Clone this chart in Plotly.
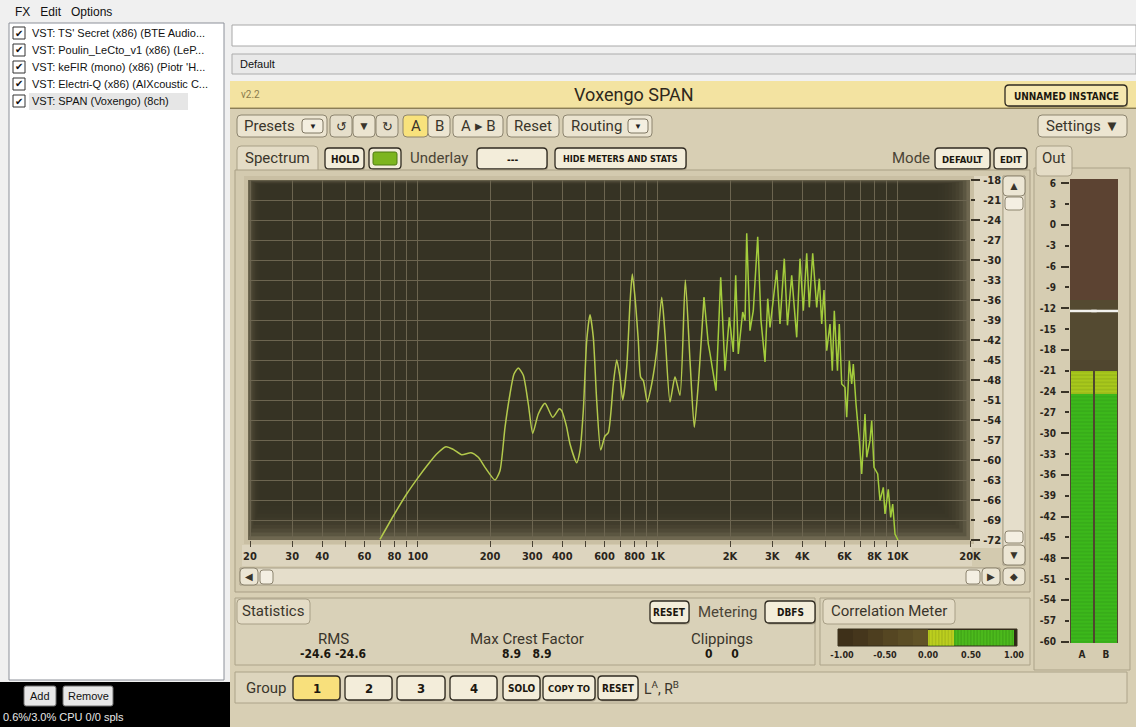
import math
import plotly.graph_objects as go

W, H = 1136, 727

# ---------------- data ----------------
freq_hz = [69.6, 79.1, 89.9, 100.5, 110.7, 119.9, 131.1, 140.6, 152.5, 166.7,
           178.8, 190.6, 209.8, 220.1, 231.0, 242.3, 251.8, 262.4, 275.3, 288.8,
           301.3, 317.9, 339.0, 365.0, 388.8, 397.9, 410.7, 417.5, 430.9, 459.5,
           474.3, 489.6, 505.8, 522.0, 538.9, 556.7, 578.5, 602.8, 622.2, 652.8,
           674.5, 696.1, 714.4, 742.4, 766.2, 783.3, 803.9, 829.8, 849.0, 870.6,
           904.5, 943.6, 990.0, 1038.7, 1072.0, 1124.7, 1179.9, 1237.9, 1302.6, 1362.6,
           1419.9, 1475.5, 1558.4, 1624.1, 1650.8, 1748.7, 1829.2, 1906.2, 1986.5, 2064,
           2112, 2166, 2259, 2310, 2348, 2423, 2501, 2609, 2693, 2798,
           2872, 2936, 3131, 3231, 3367, 3471, 3615, 3793, 3915, 4041,
           4175, 4280, 4422, 4595, 4711, 4821, 4928, 5058, 5220, 5337,
           5440, 5608, 5707, 5841, 6028, 6128, 6282, 6429, 6528, 6700,
           6915, 7076, 7303, 7424, 7662, 7789, 7962, 8250, 8434, 8706,
           8848, 9133, 9345, 9526, 9739, 9953, 10024]
level_db = [-71.9, -68.4, -65.1, -62.6, -60.6, -59.1, -58.0, -58.4, -59.2, -58.9,
            -59.6, -61.1, -63.0, -61.6, -55.1, -50.1, -47.1, -46.2, -47.3, -51.6,
            -56.0, -53.1, -51.5, -53.6, -52.3, -52.6, -54.1, -55.1, -57.6, -60.4,
            -58.6, -52.6, -42.1, -38.2, -41.6, -51.1, -58.5, -56.4, -55.9, -48.6,
            -45.0, -47.6, -51.0, -46.1, -36.5, -32.1, -35.6, -42.1, -47.6, -48.1,
            -51.3, -48.6, -43.6, -35.6, -41.1, -51.3, -47.5, -50.3, -33.0, -45.1,
            -55.1, -48.6, -35.6, -42.6, -44.0, -49.6, -32.6, -46.6, -38.6, -43.8,
            -32.3, -44.1, -37.8, -39.1, -26.0, -40.6, -37.6, -26.5, -39.1, -45.3,
            -35.8, -40.1, -31.5, -39.6, -29.8, -39.8, -32.3, -41.6, -29.8, -37.6,
            -29.0, -37.1, -29.0, -37.1, -32.8, -39.6, -34.5, -43.6, -39.6, -46.6,
            -37.6, -46.6, -39.6, -48.6, -49.1, -53.6, -45.1, -48.6, -45.6, -51.6,
            -57.1, -62.1, -53.1, -59.6, -57.1, -54.1, -61.1, -62.1, -66.1, -64.1,
            -68.1, -64.4, -68.6, -66.6, -71.1, -71.7, -72.0]

label_freqs = [20, 30, 40, 60, 80, 100, 200, 300, 400, 600, 800, 1000, 2000,
               3000, 4000, 6000, 8000, 10000, 20000]
label_text = ["20", "30", "40", "60", "80", "100", "200", "300", "400", "600",
              "800", "1K", "2K", "3K", "4K", "6K", "8K", "10K", "20K"]
minor_freqs = [50, 70, 90, 500, 700, 900, 5000, 7000, 9000]
db_ticks = [-18, -21, -24, -27, -30, -33, -36, -39, -42, -45, -48, -51, -54,
            -57, -60, -63, -66, -69, -72]
db_labels = [str(v) for v in db_ticks]
db_major = [-18, -24, -30, -36, -42, -48, -54, -60, -66, -72]

meter_ticks = [6, 3, 0, -3, -6, -9, -12, -15, -18, -21, -24, -27, -30, -33,
               -36, -39, -42, -45, -48, -51, -54, -57, -60]
meter_labels = [str(v) for v in meter_ticks]
meter_major = [6, 0, -6, -12, -18, -24, -30, -36, -42, -48, -54, -60]
meter_channels = ["A", "B"]
meter_level = [-21.0, -21.0]
meter_green_top = [-24.3, -24.3]
peak_hold = [-12.4, -12.4]

corr_ticks = [-1.0, -0.5, 0.0, 0.5, 1.0]
corr_labels = ["-1.00", "-0.50", "0.00", "0.50", "1.00"]
corr_value = [1.0]
corr_yellow = [0.3]

fx_chain = ["VST: TS' Secret (x86) (BTE Audio...",
            "VST: Poulin_LeCto_v1 (x86) (LeP...",
            "VST: keFIR (mono) (x86) (Piotr 'H...",
            "VST: Electri-Q (x86) (AIXcoustic C...",
            "VST: SPAN (Voxengo) (8ch)"]
rms_vals = ["-24.6", "-24.6"]
crest_vals = ["8.9", "8.9"]
clip_vals = ["0", "0"]

# ---------------- helpers ----------------
SANS = "Roboto, 'Liberation Sans', Arial, sans-serif"
COND = "'DejaVu Sans Condensed', 'Liberation Sans Narrow', 'DejaVu Sans', sans-serif"
WIN = "'Liberation Sans', Arial, sans-serif"
TXT = "#2a251b"
GRID = "#6c6550"
LINE_LOW = "#b3c94c"
LINE_HIGH = "#a3cc3c"


def X(px):
    return px / W


def Y(py):
    return 1 - py / H


shapes = []
annotations = []


def rect(x0, y0, x1, y1, fill, line=None, lw=0):
    shapes.append(dict(type="rect", xref="paper", yref="paper",
                       x0=X(x0), x1=X(x1), y0=Y(y1), y1=Y(y0),
                       fillcolor=fill, layer="below",
                       line=dict(color=line or "rgba(0,0,0,0)", width=lw)))


def hline(x0, x1, y, color, lw=1):
    shapes.append(dict(type="line", xref="paper", yref="paper",
                       x0=X(x0), x1=X(x1), y0=Y(y), y1=Y(y), layer="below",
                       line=dict(color=color, width=lw)))


def rrect(x0, y0, x1, y1, r, fill, line=None, lw=1):
    rx, ry = r / W, r / H
    a, b, c, d = X(x0), X(x1), Y(y0), Y(y1)
    p = (f"M{a+rx},{c} L{b-rx},{c} Q{b},{c} {b},{c-ry} L{b},{d+ry} "
         f"Q{b},{d} {b-rx},{d} L{a+rx},{d} Q{a},{d} {a},{d+ry} "
         f"L{a},{c-ry} Q{a},{c} {a+rx},{c} Z")
    shapes.append(dict(type="path", xref="paper", yref="paper", path=p,
                       fillcolor=fill, layer="below",
                       line=dict(color=line or "rgba(0,0,0,0)", width=lw)))


def text(x, y, s, size=12, color=TXT, family=SANS, xanchor="left"):
    annotations.append(dict(x=X(x), y=Y(y), xref="paper", yref="paper",
                            text=s, showarrow=False, xanchor=xanchor,
                            yanchor="middle", borderpad=0,
                            font=dict(size=size, color=color, family=family)))


def cbtn(x0, y0, x1, y1, label, fill="#f3edda", size=10):
    rrect(x0 + 1, y0 + 1.5, x1 + 1, y1 + 1.5, 4, "rgba(80,70,50,0.35)")
    rrect(x0, y0, x1, y1, 4, fill, "#2f2a20", 1.3)
    text((x0 + x1) / 2, (y0 + y1) / 2 + 0.5, f"<b>{label}</b>", size,
         "#1b170f", COND, "center")


def sbtn(x0, y0, x1, y1, label=None, fill="#ebe4d0", size=15):
    rrect(x0, y0, x1, y1, 4, fill, "#8c846f", 1)
    if label:
        text((x0 + x1) / 2, (y0 + y1) / 2, label, size, "#3a352b", SANS,
             "center")


# ---------------- window chrome ----------------
rect(0, 0, W, 24, "#f0f0f0")
rect(0, 24, 230, 682, "#f0f0f0")
rect(230, 24, W, 81, "#f0f0f0")
text(14, 12, "FX&nbsp;&nbsp;&nbsp;Edit&nbsp;&nbsp;&nbsp;Options", 12, "#111", WIN)
rect(9, 23, 224, 680, "#ffffff", "#8c9099", 1)
for i, item in enumerate(fx_chain):
    yy = 33 + 17 * i
    if i == len(fx_chain) - 1:
        rect(29, yy - 8, 188, yy + 9, "#e6e6e6")
    rect(13, yy - 6, 25, yy + 6, "#ffffff", "#333333", 1)
    text(19, yy, "✔", 10, "#111", WIN, "center")
    text(31, yy, item, 11, "#111", WIN)
rrect(24, 686, 56, 706, 2, "#e8e8e8", "#707070", 1)
text(40, 696, "Add", 11, "#111", WIN, "center")
rrect(63, 686, 113, 706, 2, "#e8e8e8", "#707070", 1)
text(88, 696, "Remove", 11, "#111", WIN, "center")
text(2, 717, "0.6%/3.0% CPU 0/0 spls", 11, "#e8e8e8", WIN)

rect(232, 25, W, 46, "#ffffff", "#a8a8a8", 1)
rect(232, 54, W, 74, "#e9e9e9", "#acacac", 1)
text(239, 64, "Default", 11, "#111", WIN)

# ---------------- plugin body ----------------
rect(230, 81, W, 108, "#f3e3a1")
hline(230, W, 108, "#b8a874", 1.5)
text(240, 95, "v2.2", 10, "#8a7a4c", SANS)
text(634, 95, "Voxengo SPAN", 18, "#2e281c", SANS, "center")
rect(230, 109, W, H, "#d8cfb4")
cbtn(1005, 85, 1127, 106, "UNNAMED INSTANCE", "#f6e8b0", 10)

# toolbar
sbtn(237, 115, 327, 137)
text(243, 126, "Presets", 15, "#3a352b", SANS)
rrect(302, 119, 323, 133, 3, "#f4efe0", "#7e7662", 1)
text(312.5, 126, "▼", 8, "#222", SANS, "center")
sbtn(330, 115, 352, 137, "↺", "#e6dfcb", 13)
sbtn(353, 115, 375, 137, "▼", "#ebe4d0", 12)
sbtn(376, 115, 398, 137, "↻", "#e6dfcb", 13)
sbtn(403, 115, 428, 137, "A", "#f8e27c", 15)
sbtn(428, 115, 450, 137, "B", "#ece5d1", 15)
sbtn(453, 115, 503, 137, "A ▸ B", "#ece5d1", 15)
sbtn(507, 115, 559, 137, "Reset", "#ece5d1", 15)
sbtn(563, 115, 652, 137)
text(570, 126, "Routing", 15, "#3a352b", SANS)
rrect(628, 119, 648, 133, 3, "#f4efe0", "#7e7662", 1)
text(638, 126, "▼", 8, "#222", SANS, "center")
sbtn(1038, 115, 1127, 137, "Settings ▼", "#ece5d1", 15)

# row 2
rrect(237, 146, 318, 176, 4, "#e4dcc6", "#a89f86", 1)
text(277, 158, "Spectrum", 15, "#3a352b", SANS, "center")
cbtn(325, 148, 364, 169, "HOLD")
rrect(369, 148, 401, 169, 4, "#f3edda", "#2f2a20", 1.3)
rrect(373, 152, 397, 165, 2, "#7db51f", "#4f7a12", 1)
text(409, 158, "Underlay", 15, "#4a4436", SANS)
cbtn(477, 148, 547, 169, "---")
cbtn(555, 148, 686, 169, "HIDE METERS AND STATS", size=9)
text(931, 158, "Mode", 15, "#4a4436", SANS, "right")
cbtn(935, 148, 990, 169, "DEFAULT", size=9.5)
cbtn(994, 148, 1027, 169, "EDIT", size=9.5)

# spectrum panel
rect(235, 170, 1030, 592, "#d3caaf", "#a99f85", 1)
rect(970, 176, 1002, 548, "#dfd7c1")
rect(244, 176, 974, 544, "#c9bfa3")
rect(248, 180, 970, 540, "#8a8066")
for i in range(10):
    rect(248 + 1.4 * i, 180 + 0.6 * i, 970 - 3.6 * i, 540 - 3.8 * i,
         "rgba(56,51,35,0.33)")
rect(242, 545, 972, 566, "#ddd5bf")
# vertical scrollbar
rect(1003, 176, 1025, 565, "#e5decb", "#a69d85", 1)
sbtn(1003, 176, 1025, 196, "▲", "#ece6d4", 12)
rrect(1005, 197, 1023, 210, 3, "#f4efe2", "#8c846f", 1)
rrect(1005, 531, 1023, 543, 3, "#f4efe2", "#8c846f", 1)
sbtn(1003, 545, 1025, 565, "▼", "#ece6d4", 12)
# horizontal scrollbar
rect(240, 568, 1000, 585, "#e5decb", "#a69d85", 1)
sbtn(240, 568, 258, 585, "◀", "#ece6d4", 10)
rrect(260, 570, 273, 584, 3, "#f4efe2", "#8c846f", 1)
rrect(966, 570, 980, 584, 3, "#f4efe2", "#8c846f", 1)
sbtn(982, 568, 1000, 585, "▶", "#ece6d4", 10)
sbtn(1003, 568, 1025, 585, "◆", "#ece6d4", 10)

# statistics panel
rect(235, 598, 815, 665, "#d9d1b8", "#aca389", 1)
rrect(237, 599, 310, 624, 4, "#e4dcc6", "#a89f86", 1)
text(273, 611, "Statistics", 15, "#3a352b", SANS, "center")
cbtn(650, 601, 689, 623, "RESET")
text(697, 612, "Metering", 15, "#4a4436", SANS)
cbtn(765, 601, 815, 623, "DBFS")
text(333, 639, "RMS", 15, "#3a352b", SANS, "center")
text(333, 654, "<b>" + " ".join(rms_vals) + "</b>", 12, "#1b170f", COND, "center")
text(527, 639, "Max Crest Factor", 15, "#3a352b", SANS, "center")
text(527, 654, "<b>" + "&nbsp;&nbsp;&nbsp;".join(crest_vals) + "</b>", 12, "#1b170f", COND, "center")
text(722, 639, "Clippings", 15, "#3a352b", SANS, "center")
text(722, 654, "<b>" + "&nbsp;&nbsp;&nbsp;&nbsp;&nbsp;".join(clip_vals) + "</b>", 12, "#1b170f", COND, "center")

# correlation panel
rect(820, 598, 1030, 665, "#d9d1b8", "#aca389", 1)
rrect(823, 599, 955, 624, 4, "#e4dcc6", "#a89f86", 1)
text(889, 611, "Correlation Meter", 15, "#3a352b", SANS, "center")
rect(838, 629, 1017, 646, "#2f2716", "#3a3220", 1)
steps = ["#3e3019", "#45361c", "#4d3e1f", "#554622", "#5b4d25", "#615327"]
for i, c in enumerate(steps):
    rect(838 + i * 15, 629.5, 838 + (i + 1) * 15, 645.5, c)

# group row
rect(235, 672, 1127, 703, "#ddd5bd", "#aca389", 1)
text(245, 688, "Group", 15, "#3a352b", SANS)
cbtn(293, 676, 340, 700, "1", "#f8e07c", 13)
cbtn(345, 676, 392, 700, "2", size=13)
cbtn(397, 676, 445, 700, "3", size=13)
cbtn(450, 676, 497, 700, "4", size=13)
cbtn(503, 676, 540, 700, "SOLO")
cbtn(543, 676, 595, 700, "COPY TO", size=9.5)
cbtn(598, 676, 638, 700, "RESET")
text(643, 688, "L<sup>A</sup>, R<sup>B</sup>", 14, "#3a352b", SANS)

# out meter panel
rect(1034, 168, 1130, 670, "#d6cdb2", "#aca389", 1)
rrect(1036, 146, 1072, 176, 4, "#e4dcc6", "#a89f86", 1)
text(1054, 158, "Out", 15, "#3a352b", SANS, "center")
rect(1070, 179, 1118, 643, "#50462f")
rect(1070, 179, 1118, 300, "#5c4332")
rect(1070, 300, 1118, 360, "#544a31")

# ---------------- figure ----------------
fig = go.Figure()
n_smooth = 63
fig.add_trace(go.Scatter(x=freq_hz[:n_smooth], y=level_db[:n_smooth],
                         mode="lines", hoverinfo="skip",
                         line=dict(color=LINE_LOW, width=1.5, shape="spline",
                                   smoothing=0.6),
                         xaxis="x", yaxis="y"))
fig.add_trace(go.Scatter(x=freq_hz[n_smooth - 1:], y=level_db[n_smooth - 1:],
                         mode="lines", hoverinfo="skip",
                         line=dict(color=LINE_HIGH, width=1.5),
                         xaxis="x", yaxis="y"))
fig.add_trace(go.Scatter(x=[freq_hz[0]], y=[level_db[0]], mode="markers",
                         marker=dict(opacity=0), hoverinfo="skip",
                         xaxis="x", yaxis="y2"))

METER_FLOOR = -60.2
fig.add_trace(go.Bar(x=meter_channels,
                     y=[v - METER_FLOOR for v in meter_level],
                     base=METER_FLOOR, width=0.94, hoverinfo="skip",
                     marker=dict(color="#a8c81c", line=dict(width=0),
                                 pattern=dict(shape="-", fgcolor="rgba(60,90,10,0.6)",
                                              size=3.6, solidity=0.22)),
                     xaxis="x3", yaxis="y3"))
fig.add_trace(go.Bar(x=meter_channels,
                     y=[v - METER_FLOOR for v in meter_green_top],
                     base=METER_FLOOR, width=0.94, hoverinfo="skip",
                     marker=dict(color="#3cb81b", line=dict(width=0),
                                 pattern=dict(shape="-", fgcolor="rgba(20,90,10,0.55)",
                                              size=3.6, solidity=0.22)),
                     xaxis="x3", yaxis="y3"))
fig.add_trace(go.Scatter(x=meter_channels, y=peak_hold, mode="markers",
                         hoverinfo="skip",
                         marker=dict(symbol="line-ew", size=21,
                                     line=dict(color="#f2f2ee", width=2.5)),
                         xaxis="x3", yaxis="y3"))
fig.add_trace(go.Scatter(x=[meter_channels[0]], y=[meter_level[0]],
                         mode="markers", marker=dict(opacity=0),
                         hoverinfo="skip", xaxis="x3", yaxis="y4"))

fig.add_trace(go.Bar(y=["c"], x=corr_value, base=0, orientation="h", width=1,
                     hoverinfo="skip",
                     marker=dict(color="#4cba1c", line=dict(width=0),
                                 pattern=dict(shape="|", fgcolor="rgba(20,80,10,0.55)",
                                              size=3.2, solidity=0.3)),
                     xaxis="x5", yaxis="y5"))
fig.add_trace(go.Bar(y=["c"], x=corr_yellow, base=0, orientation="h", width=1,
                     hoverinfo="skip",
                     marker=dict(color="#bccf1e", line=dict(width=0),
                                 pattern=dict(shape="|", fgcolor="rgba(80,90,10,0.5)",
                                              size=3.2, solidity=0.3)),
                     xaxis="x5", yaxis="y5"))

tickfont = dict(family=COND, size=11, color=TXT, weight="bold")
fig.update_layout(
    width=W, height=H, autosize=False,
    margin=dict(l=0, r=0, t=0, b=0, pad=0, autoexpand=False),
    paper_bgcolor="#000000", plot_bgcolor="rgba(0,0,0,0)",
    showlegend=False, barmode="overlay", bargap=0,
    shapes=shapes, annotations=annotations,
    xaxis=dict(domain=[X(248), X(970)], type="log",
               range=[math.log10(19.62), math.log10(20000)],
               tickmode="array", tickvals=label_freqs, ticktext=label_text,
               showgrid=True, gridcolor=GRID, gridwidth=1,
               ticks="outside", ticklen=6, tickcolor="#4a4334", tickwidth=1,
               minor=dict(tickmode="array", tickvals=minor_freqs,
                          showgrid=True, gridcolor=GRID, gridwidth=1,
                          ticks="outside", ticklen=6, tickcolor="#4a4334",
                          tickwidth=1),
               tickfont=tickfont, zeroline=False, showline=False,
               automargin=False, fixedrange=True, anchor="y"),
    yaxis=dict(domain=[Y(540), Y(180)], range=[-72, -18], side="right",
               tickmode="array", tickvals=db_ticks, ticktext=db_labels,
               showgrid=True, gridcolor=GRID, gridwidth=1,
               ticks="outside", ticklen=4, tickcolor="#3a3428", tickwidth=1.5,
               ticklabelstandoff=6, tickfont=tickfont, zeroline=False,
               showline=False, automargin=False, fixedrange=True, anchor="x"),
    yaxis2=dict(overlaying="y", side="right", range=[-72, -18],
                tickmode="array", tickvals=db_major, ticks="outside",
                ticklen=9, tickcolor="#3a3428", tickwidth=1.5,
                showticklabels=False, showgrid=False, zeroline=False,
                showline=False, automargin=False, fixedrange=True, anchor="x"),
    xaxis3=dict(domain=[X(1070), X(1118)], type="category",
                categoryorder="array", categoryarray=meter_channels,
                range=[-0.5, 1.5], ticks="", showgrid=False, zeroline=False,
                showline=False, ticklabelstandoff=4, automargin=False,
                tickfont=dict(family=COND, size=10, color=TXT, weight="bold"),
                fixedrange=True, anchor="y3"),
    yaxis3=dict(domain=[Y(643), Y(179)], range=[METER_FLOOR, 6.6], side="left",
                tickmode="array", tickvals=meter_ticks, ticktext=meter_labels,
                ticks="outside", ticklen=4, tickcolor="#3a3428", tickwidth=1.5,
                ticklabelstandoff=7, showgrid=False, zeroline=False,
                showline=False, automargin=False,
                tickfont=dict(family=COND, size=10, color=TXT, weight="bold"),
                fixedrange=True, anchor="x3"),
    yaxis4=dict(overlaying="y3", side="left", range=[METER_FLOOR, 6.6],
                tickmode="array", tickvals=meter_major, ticks="outside",
                ticklen=8, tickcolor="#3a3428", tickwidth=1.5,
                showticklabels=False, showgrid=False, zeroline=False,
                showline=False, automargin=False, fixedrange=True, anchor="x3"),
    xaxis5=dict(domain=[X(838), X(1017)], range=[-1.047, 1.035],
                tickmode="array", tickvals=corr_ticks, ticktext=corr_labels,
                ticks="", showgrid=False, zeroline=False, showline=False,
                ticklabelstandoff=2, automargin=False,
                tickfont=dict(family=COND, size=9, color=TXT, weight="bold"),
                fixedrange=True, anchor="y5"),
    yaxis5=dict(domain=[Y(645.5), Y(629.5)], type="category",
                range=[-0.5, 0.5], visible=False, fixedrange=True,
                automargin=False, anchor="x5"),
)

fig.write_html("out.html", config={"displayModeBar": False},
               post_script="document.body.style.margin='0px';"
                           "document.body.style.overflow='hidden';")
